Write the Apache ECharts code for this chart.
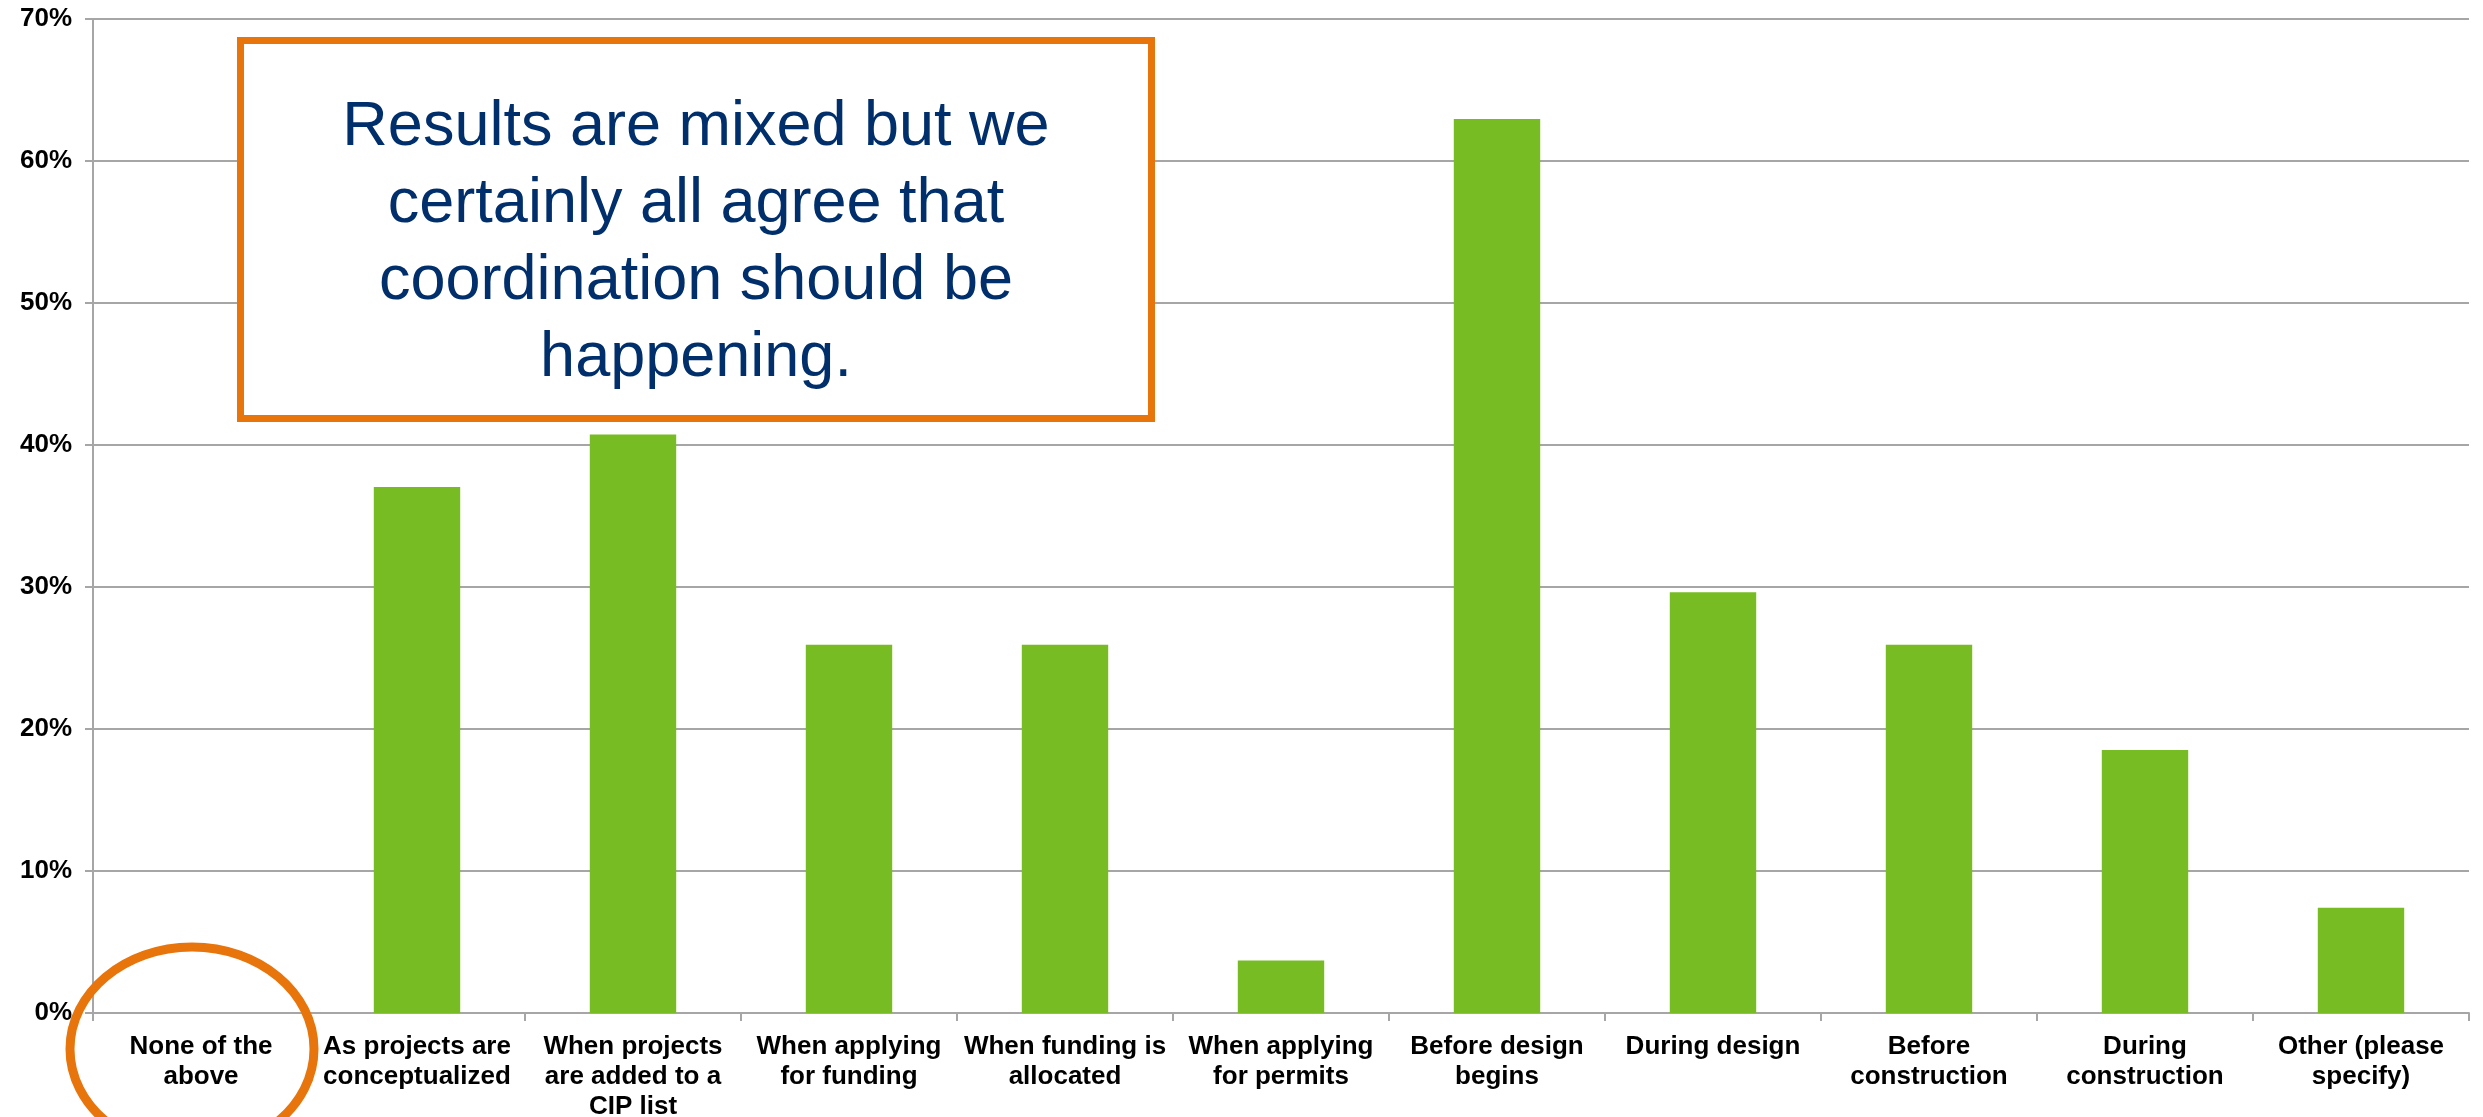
<!DOCTYPE html>
<html>
<head>
<meta charset="utf-8">
<script src="https://cdn.jsdelivr.net/npm/echarts@6/dist/echarts.min.js"></script>
<style>
html,body{margin:0;padding:0;background:#fff;}
#chart{width:2483px;height:1117px;}
</style>
</head>
<body>
<div id="chart"></div>
<script>
const categories = [
  "None of the\nabove",
  "As projects are\nconceptualized",
  "When projects\nare added to a\nCIP list",
  "When applying\nfor funding",
  "When funding is\nallocated",
  "When applying\nfor permits",
  "Before design\nbegins",
  "During design",
  "Before\nconstruction",
  "During\nconstruction",
  "Other (please\nspecify)"
];
const values = [0, 37.04, 40.74, 25.93, 25.93, 3.70, 62.96, 29.63, 25.93, 18.52, 7.41];
const yTicks = { min: 0, max: 70, interval: 10 };
const noteText = "Results are mixed but we\ncertainly all agree that\ncoordination should be\nhappening.";

const chart = echarts.init(document.getElementById('chart'));
const gridColor = '#a6a6a6';
const orange = '#E8740C';
chart.setOption({
  animation: false,
  backgroundColor: '#ffffff',
  grid: { left: 93, right: 14, top: 19, bottom: 104, containLabel: false, outerBoundsMode: 'none' },
  xAxis: {
    type: 'category',
    data: categories,
    boundaryGap: true,
    axisLine: { show: true, lineStyle: { color: gridColor, width: 2 } },
    axisTick: { show: true, alignWithLabel: false, length: 8, lineStyle: { color: gridColor, width: 2 } },
    axisLabel: {
      interval: 0,
      margin: 19,
      color: '#000000',
      fontFamily: 'Liberation Sans, Arial, sans-serif',
      fontWeight: 'bold',
      fontSize: 26,
      lineHeight: 30,
      align: 'center'
    }
  },
  yAxis: {
    type: 'value',
    min: yTicks.min,
    max: yTicks.max,
    interval: yTicks.interval,
    axisLine: { show: true, lineStyle: { color: gridColor, width: 2 } },
    axisTick: { show: true, length: 8, lineStyle: { color: gridColor, width: 2 } },
    splitLine: { show: true, lineStyle: { color: gridColor, width: 2 } },
    axisLabel: {
      formatter: '{value}%',
      margin: 21,
      color: '#000000',
      fontFamily: 'Liberation Sans, Arial, sans-serif',
      fontWeight: 'bold',
      fontSize: 26
    }
  },
  series: [{
    type: 'bar',
    data: values,
    barWidth: '40%',
    itemStyle: { color: '#77BC22' },
    z: 2
  }],
  graphic: [
    {
      type: 'rect',
      shape: { x: 240.5, y: 40.5, width: 911, height: 378 },
      style: { fill: '#ffffff', stroke: orange, lineWidth: 7 },
      z: 100
    },
    {
      type: 'text',
      x: 696,
      y: 243,
      style: {
        text: noteText,
        fill: '#002F6C',
        font: '63px "Liberation Sans", Arial, sans-serif',
        align: 'center',
        verticalAlign: 'middle',
        lineHeight: 77
      },
      z: 101
    },
    {
      type: 'ellipse',
      shape: { cx: 192, cy: 1049, rx: 122, ry: 102 },
      style: { fill: 'none', stroke: orange, lineWidth: 9 },
      z: 100
    }
  ]
});
</script>
</body>
</html>
